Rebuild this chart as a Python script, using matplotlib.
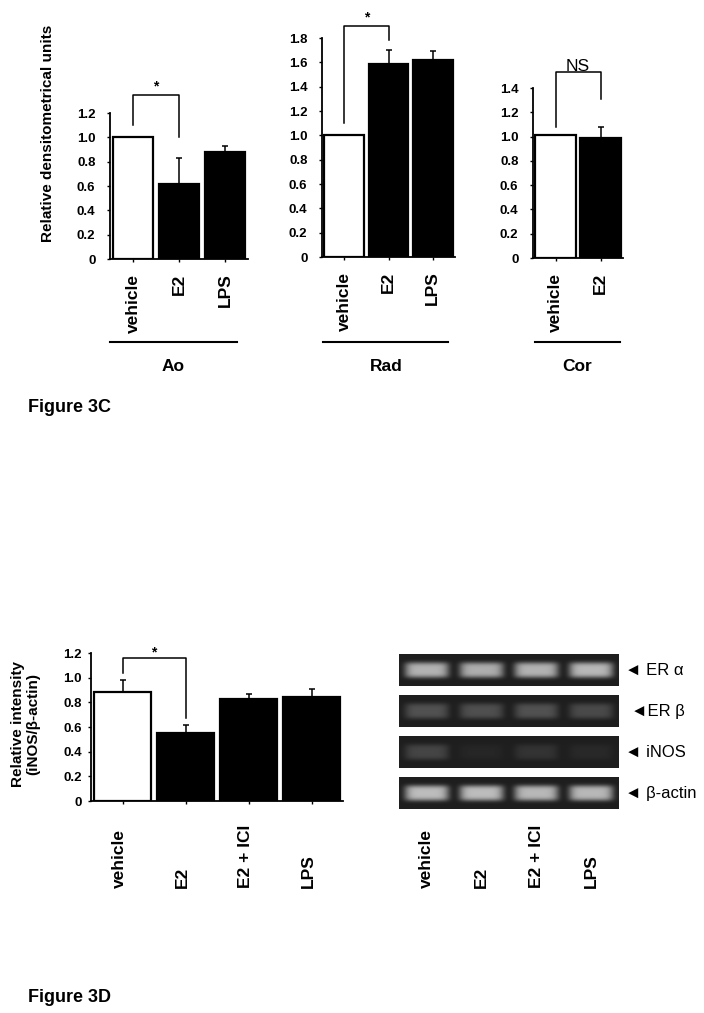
import matplotlib
matplotlib.use("Agg")
import matplotlib.pyplot as plt
import matplotlib.transforms as mtrans
import numpy as np

plt.rcParams['font.family'] = ['Liberation Sans', 'DejaVu Sans']

W, H = 704, 1013

# ---- Figure 3C data ----
ao_labels = ["vehicle", "E2", "LPS"]
ao_vals = [1.0, 0.62, 0.88]
ao_err = [0.0, 0.21, 0.05]

rad_labels = ["vehicle", "E2", "LPS"]
rad_vals = [1.0, 1.59, 1.62]
rad_err = [0.0, 0.11, 0.07]

cor_labels = ["vehicle", "E2"]
cor_vals = [1.01, 0.99]
cor_err = [0.0, 0.09]

# ---- Figure 3D data ----
d_labels = ["vehicle", "E2", "E2 + ICI", "LPS"]
d_vals = [0.88, 0.55, 0.83, 0.84]
d_err = [0.10, 0.07, 0.04, 0.07]

# gel band intensities (rows x lanes)
gel_rows = ["\u25c4 ER \u03b1", "\u25c4ER \u03b2", "\u25c4 iNOS", "\u25c4 \u03b2-actin"]
gel_bands = [[0.58, 0.56, 0.58, 0.60],
             [0.20, 0.19, 0.20, 0.17],
             [0.15, 0.03, 0.08, 0.04],
             [0.62, 0.62, 0.60, 0.60]]
gel_bg = 0.12


def px_axes(fig, l, t, r, b):
    return fig.add_axes([l / W, 1 - b / H, (r - l) / W, (b - t) / H])


def bar_panel(ax, vals, err, ymax, ytl_pad=8, width=0.88):
    x = np.arange(len(vals))
    colors = ["white"] + ["black"] * (len(vals) - 1)
    ax.bar(x, vals, width=width, color=colors, edgecolor="black", linewidth=1.6, zorder=2)
    lower = np.zeros(len(vals))
    ax.errorbar(x, vals, yerr=[lower, err], fmt="none", ecolor="black",
                elinewidth=1.1, capsize=2, capthick=1.1, zorder=1)
    ax.set_xlim(-0.5, len(vals) - 0.5)
    ax.set_ylim(0, ymax)
    ticks = np.round(np.arange(0, ymax + 0.001, 0.2), 1)
    ax.set_yticks(ticks)
    ax.set_yticklabels(["0"] + ["%.1f" % t for t in ticks[1:]], fontsize=9.5, fontweight="bold")
    ax.tick_params(axis="y", length=2.5, width=1, pad=ytl_pad)
    ax.tick_params(axis="x", length=2.5, width=1)
    for s in ["top", "right"]:
        ax.spines[s].set_visible(False)
    for s in ["left", "bottom"]:
        ax.spines[s].set_linewidth(1.3)
    ax.set_xticks(x)
    ax.patch.set_alpha(0)


def bracket(ax, y_left, y_top, y_right, label="*", fs=10, weight="bold", off=3):
    ax.plot([0, 0, 1, 1], [y_left, y_top, y_top, y_right], color="black",
            lw=1.1, clip_on=False, zorder=3)
    ax.annotate(label, xy=(0.5, y_top), xytext=(0, off), textcoords="offset points",
                ha="center", va="baseline", fontsize=fs, fontweight=weight,
                annotation_clip=False)


def group_line(fig, ax, name, x0, x1):
    tr = mtrans.blended_transform_factory(ax.transAxes, fig.transFigure)
    ax.plot([x0, x1], [1 - 342 / H, 1 - 342 / H], transform=tr, color="black",
            lw=1.5, clip_on=False)
    ax.text((x0 + x1) / 2, 1 - 371 / H, name, transform=tr, ha="center", va="baseline",
            fontsize=12.5, fontweight="bold")


fig = plt.figure(figsize=(W / 100, H / 100), dpi=100)

# Ao
ax1 = px_axes(fig, 110, 113, 248, 259)
bar_panel(ax1, ao_vals, ao_err, 1.2, width=0.87)
ax1.set_xticklabels(ao_labels, rotation=90, fontsize=12.5, fontweight="bold")
ax1.tick_params(axis="x", pad=8)
bracket(ax1, 1.1, 1.35, 1.0)
group_line(fig, ax1, "Ao", 0.0, 0.92)

# Rad
ax2 = px_axes(fig, 322, 38, 455, 257)
bar_panel(ax2, rad_vals, rad_err, 1.8, width=0.9)
ax2.set_xticklabels(rad_labels, rotation=90, fontsize=12.5, fontweight="bold")
ax2.tick_params(axis="x", pad=8)
bracket(ax2, 1.1, 1.9, 1.78)
group_line(fig, ax2, "Rad", 0.01, 0.95)

# Cor
ax3 = px_axes(fig, 533, 88, 623, 258)
bar_panel(ax3, cor_vals, cor_err, 1.4, width=0.91)
ax3.set_xticklabels(cor_labels, rotation=90, fontsize=12.5, fontweight="bold")
ax3.tick_params(axis="x", pad=8)
bracket(ax3, 1.08, 1.53, 1.31, label="NS", fs=12.5, weight="normal", off=1)
group_line(fig, ax3, "Cor", 0.02, 0.97)

fig.text(48 / W, 1 - 133 / H, "Relative densitometrical units", rotation=90,
         ha="center", va="center", fontsize=11, fontweight="bold")
fig.text(28 / W, 1 - 412 / H, "Figure 3C", ha="left", va="baseline",
         fontsize=13, fontweight="bold")

# Figure 3D bar chart
ax4 = px_axes(fig, 91, 653, 343, 801)
bar_panel(ax4, d_vals, d_err, 1.2, ytl_pad=4, width=0.89)
ax4.set_xticklabels([])
tr4 = mtrans.blended_transform_factory(ax4.transData, ax4.transAxes)
for i, lab in enumerate(d_labels):
    ax4.text(i - 0.05, (801 - 888) / 148, lab, transform=tr4, rotation=90,
             ha="center", va="bottom", fontsize=12.5, fontweight="bold")
bracket(ax4, 1.04, 1.16, 0.67, off=1)
fig.text(25.5 / W, 1 - 724 / H, "Relative intensity\n(iNOS/\u03b2-actin)", rotation=90,
         ha="center", va="center", fontsize=11, fontweight="bold", linespacing=1.05,
         multialignment="center")

# gel image
axg = px_axes(fig, 399, 650, 619, 814)
axg.axis("off")
xs = np.linspace(-0.5, 3.5, 220)
ys = np.linspace(-1, 1, 31)
vprof = np.exp(-(ys / 0.5) ** 4)
for r, (name, bands) in enumerate(zip(gel_rows, gel_bands)):
    prof = np.zeros_like(xs)
    for lane, inten in enumerate(bands):
        prof += inten * np.exp(-((xs - lane) / 0.4) ** 6)
    img = gel_bg + np.outer(vprof, prof)
    axg.imshow(np.clip(img, 0, 1), cmap="gray", vmin=0, vmax=1, aspect="auto",
               extent=(-0.5, 3.5, r + 0.38, r - 0.38), interpolation="bilinear")
    xoff = 1.055 if r == 1 else 1.027
    axg.text(xoff, r, name, transform=mtrans.blended_transform_factory(axg.transAxes, axg.transData),
             ha="left", va="center", fontsize=12)
axg.set_xlim(-0.5, 3.5)
axg.set_ylim(3.5, -0.5)
trg = mtrans.blended_transform_factory(axg.transData, axg.transAxes)
for i, lab in enumerate(d_labels):
    axg.text(i, (814 - 888) / 164, lab, transform=trg, rotation=90,
             ha="center", va="bottom", fontsize=12.5, fontweight="bold")

fig.text(28 / W, 1 - 1002 / H, "Figure 3D", ha="left", va="baseline",
         fontsize=13, fontweight="bold")

fig.savefig("out.png", dpi=100)
